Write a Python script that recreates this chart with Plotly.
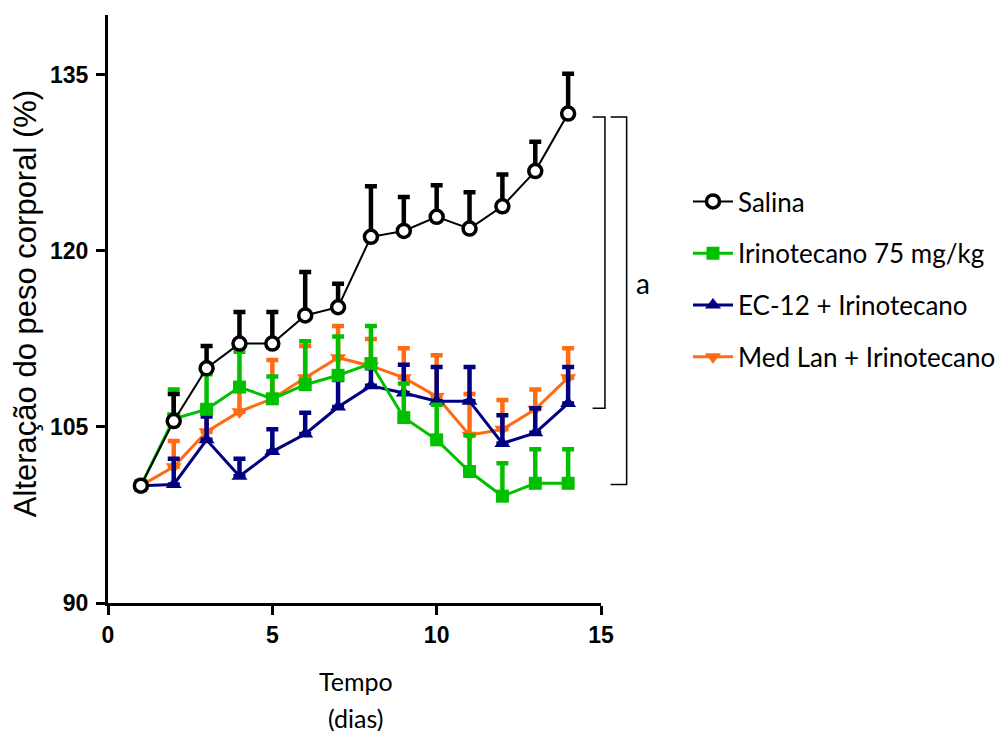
import plotly.graph_objects as go

days = list(range(1, 15))

salina = [100, 105.5, 110.0, 112.1, 112.1, 114.5, 115.2, 121.2, 121.7, 122.9, 121.9, 123.8, 126.8, 131.7]
salina_top = [100, 107.8, 111.9, 114.8, 114.8, 118.2, 117.2, 125.5, 124.6, 125.6, 125.0, 126.5, 129.3, 135.1]

irino = [100, 105.7, 106.5, 108.4, 107.4, 108.6, 109.4, 110.4, 105.8, 103.9, 101.2, 99.1, 100.2, 100.2]
irino_top = [100, 108.2, 109.5, 111.4, 109.3, 112.3, 112.7, 113.6, 108.7, 106.9, 104.3, 101.9, 103.1, 103.1]

ec12 = [100, 100.1, 103.9, 100.8, 102.9, 104.4, 106.7, 108.5, 107.9, 107.2, 107.2, 103.6, 104.5, 107.0]
ec12_top = [100, 102.3, 105.9, 102.3, 104.8, 106.2, 109.0, 110.0, 110.3, 110.1, 110.1, 106.0, 106.6, 110.1]

medlan = [100, 101.6, 104.6, 106.3, 107.4, 109.2, 110.9, 110.2, 109.2, 107.6, 104.3, 104.8, 106.5, 109.2]
medlan_top = [100, 103.8, 106.5, 108.5, 110.7, 111.9, 113.6, 112.5, 111.7, 111.1, 107.8, 107.3, 108.2, 111.7]

names = ["Salina", "Irinotecano 75 mg/kg", "EC-12 + Irinotecano", "Med Lan + Irinotecano"]
colors = ["#000000", "#00C000", "#000080", "#FF6A13"]

x_ticks = [0, 5, 10, 15]
y_ticks = [90, 105, 120, 135]

fig = go.Figure()

def add(vals, tops, name, color, symbol, size, fill, lw, rank):
    fig.add_trace(go.Scatter(
        x=days, y=vals, name=name, mode="lines+markers",
        line=dict(color=color, width=lw),
        marker=dict(symbol=symbol, size=size, color=fill,
                    line=dict(color=color, width=3.5 if fill == "white" else 0)),
        error_y=dict(type="data", symmetric=False,
                     array=[t - v for t, v in zip(tops, vals)],
                     arrayminus=[0] * len(vals),
                     color=color, thickness=4.5, width=6),
        legendgroup=name, legendrank=rank,
    ))

add(medlan, medlan_top, names[3], colors[3], "triangle-down", 14, colors[3], 3, 4)
add(ec12, ec12_top, names[2], colors[2], "triangle-up", 14, colors[2], 3, 3)
add(irino, irino_top, names[1], colors[1], "square", 13, colors[1], 3, 2)
add(salina, salina_top, names[0], colors[0], "circle", 13, "white", 2, 1)

tick_font = dict(family="Liberation Sans, Arial, sans-serif", size=23, color="black", weight="bold")
calibri_like = "Lato, Open Sans, sans-serif"

fig.update_layout(
    width=1005, height=731,
    margin=dict(l=100, r=412, t=7, b=136),
    plot_bgcolor="white", paper_bgcolor="white",
    showlegend=True,
    legend=dict(xref="container", yref="container", x=0.6766, y=0.7674,
                xanchor="left", yanchor="top",
                font=dict(family=calibri_like, size=26, color="black"),
                tracegroupgap=15, itemwidth=40, bgcolor="rgba(0,0,0,0)"),
    xaxis=dict(range=[0, 15], tickvals=x_ticks, showgrid=False, zeroline=False,
               showline=True, linecolor="black", linewidth=3,
               ticks="outside", ticklen=9, tickwidth=3, tickcolor="black",
               tickfont=tick_font, automargin=False),
    yaxis=dict(range=[90, 140.1], tickvals=y_ticks, showgrid=False, zeroline=False,
               showline=True, linecolor="black", linewidth=3,
               ticks="outside", ticklen=9, tickwidth=3, tickcolor="black",
               tickfont=tick_font, automargin=False, ticklabelstandoff=3),
)

# axis titles
fig.add_annotation(xref="paper", yref="paper", x=-0.168, y=0.5085, text="Alteração do peso corporal (%)",
                   textangle=-90, showarrow=False, xanchor="center", yanchor="middle",
                   font=dict(family="Liberation Sans, Arial, sans-serif", size=31, color="black"))
fig.add_annotation(xref="paper", yref="paper", x=0.503, y=-0.1327, text="Tempo", showarrow=False,
                   xanchor="center", yanchor="middle", font=dict(family=calibri_like, size=25, color="black"))
fig.add_annotation(xref="paper", yref="paper", x=0.503, y=-0.1956, text="(dias)", showarrow=False,
                   xanchor="center", yanchor="middle", font=dict(family=calibri_like, size=25, color="black"))

# significance brackets
for x0, x1, ybot in [(0.983, 1.008, 106.6), (1.0195, 1.052, 100.1)]:
    fig.add_shape(type="path", xref="paper", yref="y",
                  path=f"M {x0} 131.4 L {x1} 131.4 L {x1} {ybot} L {x0} {ybot}",
                  line=dict(color="black", width=1.5))

fig.add_annotation(xref="paper", yref="y", x=1.085, y=117.3, text="a", showarrow=False,
                   xanchor="center", yanchor="middle",
                   font=dict(family=calibri_like, size=28, color="black"))

fig.write_html("out.html")
